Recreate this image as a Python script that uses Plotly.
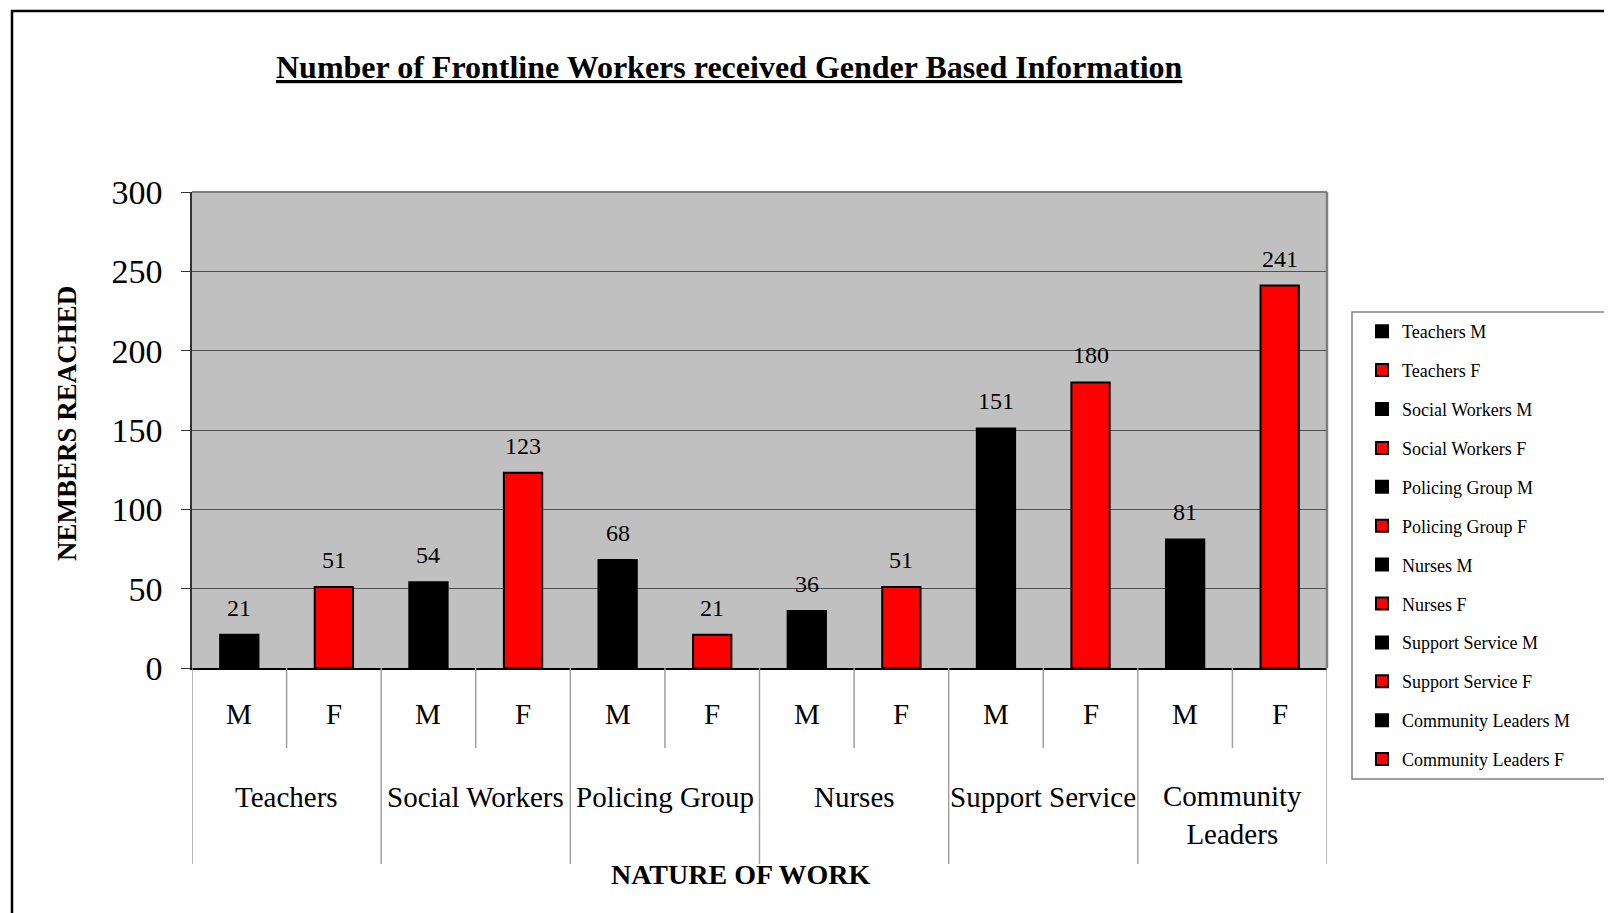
import plotly.graph_objects as go

# ---------------- data ----------------
groups = ["Teachers", "Social Workers", "Policing Group", "Nurses",
          "Support Service", "Community Leaders"]
group_labels = ["Teachers", "Social Workers", "Policing Group", "Nurses",
                "Support Service", "Community<br>Leaders"]
genders = ["M", "F"]
male_values = [21, 54, 68, 36, 151, 81]
female_values = [51, 123, 21, 51, 180, 241]
y_tick_values = [0, 50, 100, 150, 200, 250, 300]

title_text = "Number of Frontline Workers received Gender Based Information"
y_title = "NEMBERS REACHED"
x_title = "NATURE OF WORK"

# ---------------- geometry (page pixels) ----------------
W, H = 1612, 913
OFF = 8                                 # page body margin
PL, PR, PT, PB = 192, 1327, 192, 668    # plot area edges on the page


def fx(px):
    return (px - PL) / (PR - PL)


def fy(py):
    return (PB - py) / (PB - PT)


FONT = "Liberation Serif"
colors = {"M": "#000000", "F": "#FF0000"}

fig = go.Figure()
slot = 0
bar_x, bar_v = [], []
for gi, g in enumerate(groups):
    for s, vals in (("M", male_values), ("F", female_values)):
        v = vals[gi]
        fig.add_trace(go.Bar(
            x=[slot], y=[v], name=f"{g} {s}",
            width=0.405,
            marker=dict(color=colors[s], line=dict(color="#000000", width=2)),
            legendgroup=f"{g} {s}",
            hoverinfo="name+y",
        ))
        bar_x.append(slot)
        bar_v.append(v)
        slot += 1

n_slots = slot


def ann(**kw):
    d = dict(showarrow=False, xanchor="center", yanchor="middle")
    d.update(kw)
    return d


annotations = []
# data labels
for xv, v in zip(bar_x, bar_v):
    annotations.append(ann(x=xv, y=v, xref="x", yref="y", text=str(v),
                           yanchor="bottom", yshift=12,
                           font=dict(family=FONT, size=24, color="#000")))
# gender labels
for i in range(n_slots):
    annotations.append(ann(x=i, y=fy(714), xref="x", yref="paper",
                           text=genders[i % 2],
                           font=dict(family=FONT, size=29, color="#000")))
# group labels
for gi, gl in enumerate(group_labels):
    two = "<br>" in gl
    annotations.append(ann(x=2 * gi + 0.5, y=fy(815 if two else 797),
                           xref="x", yref="paper", text=gl,
                           font=dict(family=FONT, size=29, color="#000")))
# titles
annotations.append(ann(x=fx(729), y=fy(67), xref="paper", yref="paper",
                       text=f"<u>{title_text}</u>",
                       font=dict(family=FONT, size=32, color="#000",
                                 weight="bold")))
annotations.append(ann(x=fx(67), y=fy(424), xref="paper", yref="paper",
                       text=y_title, textangle=-90,
                       font=dict(family=FONT, size=27, color="#000",
                                 weight="bold")))
annotations.append(ann(x=fx(740), y=fy(874), xref="paper", yref="paper",
                       text=x_title,
                       font=dict(family=FONT, size=28, color="#000",
                                 weight="bold")))

shapes = []
# category separators
for b in range(n_slots + 1):
    xb = b - 0.5
    long = (b % 2 == 0)
    shapes.append(dict(type="line", xref="x", yref="paper", x0=xb, x1=xb,
                       y0=0, y1=fy(864 if long else 748),
                       line=dict(color="#A0A0A0", width=1.5)))
# plot area top/right border
shapes.append(dict(type="line", xref="paper", yref="paper", x0=0, x1=1,
                   y0=1, y1=1, line=dict(color="#808080", width=2)))
shapes.append(dict(type="line", xref="paper", yref="paper", x0=1, x1=1,
                   y0=0, y1=1, line=dict(color="#808080", width=2.5)))
# legend box
shapes.append(dict(type="rect", xref="paper", yref="paper",
                   x0=fx(1352), x1=fx(1611), y0=fy(779), y1=fy(312),
                   line=dict(color="#808080", width=1.5)))
# outer chart border
shapes.append(dict(type="rect", xref="paper", yref="paper",
                   x0=fx(12), x1=fx(1700), y0=fy(1000), y1=fy(11),
                   line=dict(color="#000000", width=2.5)))

fig.update_layout(
    width=W - OFF, height=H - OFF, autosize=False,
    margin=dict(l=PL - OFF, r=W - PR, t=PT - OFF, b=H - PB, pad=0),
    paper_bgcolor="#FFFFFF", plot_bgcolor="#C0C0C0",
    barmode="overlay",
    showlegend=True,
    legend=dict(x=fx(1362), y=fy(313), xanchor="left", yanchor="top",
                bgcolor="rgba(0,0,0,0)", borderwidth=0,
                tracegroupgap=12.5,
                font=dict(family=FONT, size=18, color="#000")),
    xaxis=dict(range=[-0.5, n_slots - 0.5], showticklabels=False,
               showgrid=False, zeroline=False, ticks="",
               showline=True, linecolor="#000000", linewidth=2),
    yaxis=dict(range=[0, 300], tickvals=y_tick_values,
               showgrid=True, gridcolor="#505050", gridwidth=1,
               zeroline=False, ticks="outside", ticklen=9,
               tickcolor="#333333", ticklabelstandoff=12,
               showline=True, linecolor="#333333", linewidth=1.5,
               tickfont=dict(family=FONT, size=34, color="#000")),
    annotations=annotations,
    shapes=shapes,
)

fig.write_html("out.html")
